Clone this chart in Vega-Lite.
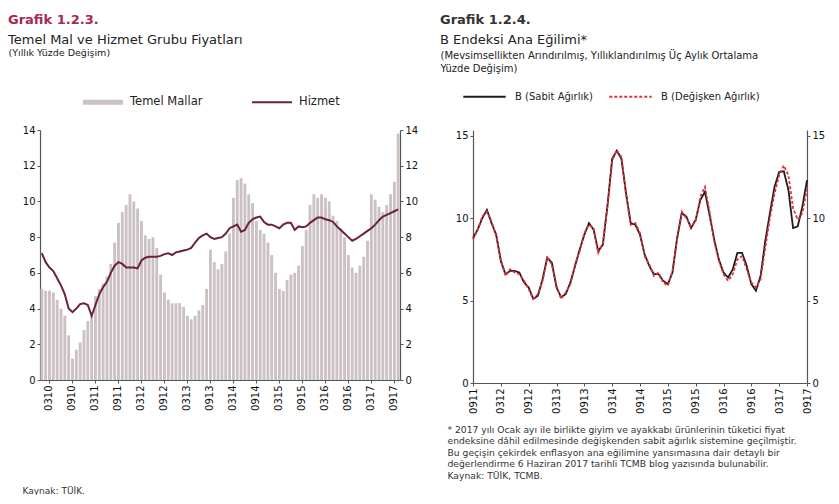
{
  "$schema": "https://vega.github.io/schema/vega-lite/v6.json",
  "background": "white",
  "padding": {"left": 8, "top": 14, "right": 0, "bottom": 0},
  "spacing": 22,
  "resolve": {
    "scale": {"color": "independent", "strokeDash": "independent"},
    "legend": {"color": "independent", "strokeDash": "independent"}
  },
  "config": {
    "font": "DejaVu Sans",
    "view": {"stroke": null},
    "axis": {
      "labelFont": "DejaVu Sans",
      "labelFontSize": 10,
      "labelColor": "#111",
      "domainColor": "#555",
      "domainWidth": 1.2,
      "tickColor": "#555",
      "tickSize": 3,
      "grid": false,
      "titleFont": "DejaVu Sans"
    },
    "title": {
      "anchor": "start",
      "frame": "group",
      "font": "DejaVu Sans",
      "fontSize": 13,
      "fontWeight": "bold",
      "subtitleFont": "DejaVu Sans",
      "subtitleFontSize": 13,
      "subtitleColor": "#222",
      "subtitlePadding": 7
    },
    "legend": {
      "labelFont": "DejaVu Sans",
      "labelColor": "#222"
    }
  },
  "datasets": {
    "temel": [
      {"ay": "2010-01", "temel": 5.1, "hizmet": 7.1},
      {"ay": "2010-02", "temel": 5.0, "hizmet": 6.6},
      {"ay": "2010-03", "temel": 5.0, "hizmet": 6.3},
      {"ay": "2010-04", "temel": 4.9, "hizmet": 6.1},
      {"ay": "2010-05", "temel": 4.5, "hizmet": 5.7},
      {"ay": "2010-06", "temel": 4.0, "hizmet": 5.3},
      {"ay": "2010-07", "temel": 3.6, "hizmet": 4.8},
      {"ay": "2010-08", "temel": 2.5, "hizmet": 4.0},
      {"ay": "2010-09", "temel": 1.2, "hizmet": 3.8},
      {"ay": "2010-10", "temel": 1.7, "hizmet": 4.0},
      {"ay": "2010-11", "temel": 2.1, "hizmet": 4.25},
      {"ay": "2010-12", "temel": 2.8, "hizmet": 4.3},
      {"ay": "2011-01", "temel": 3.3, "hizmet": 4.2},
      {"ay": "2011-02", "temel": 3.6, "hizmet": 3.6},
      {"ay": "2011-03", "temel": 4.7, "hizmet": 4.2},
      {"ay": "2011-04", "temel": 5.1, "hizmet": 4.8},
      {"ay": "2011-05", "temel": 5.4, "hizmet": 5.2},
      {"ay": "2011-06", "temel": 5.8, "hizmet": 5.5},
      {"ay": "2011-07", "temel": 6.5, "hizmet": 6.0},
      {"ay": "2011-08", "temel": 7.7, "hizmet": 6.4},
      {"ay": "2011-09", "temel": 8.8, "hizmet": 6.6},
      {"ay": "2011-10", "temel": 9.4, "hizmet": 6.5},
      {"ay": "2011-11", "temel": 9.8, "hizmet": 6.3},
      {"ay": "2011-12", "temel": 10.4, "hizmet": 6.3},
      {"ay": "2012-01", "temel": 10.0, "hizmet": 6.3},
      {"ay": "2012-02", "temel": 9.6, "hizmet": 6.25},
      {"ay": "2012-03", "temel": 8.9, "hizmet": 6.7},
      {"ay": "2012-04", "temel": 8.1, "hizmet": 6.85},
      {"ay": "2012-05", "temel": 7.9, "hizmet": 6.9},
      {"ay": "2012-06", "temel": 8.0, "hizmet": 6.9},
      {"ay": "2012-07", "temel": 7.4, "hizmet": 6.9},
      {"ay": "2012-08", "temel": 5.9, "hizmet": 6.95},
      {"ay": "2012-09", "temel": 4.9, "hizmet": 7.05},
      {"ay": "2012-10", "temel": 4.5, "hizmet": 7.1},
      {"ay": "2012-11", "temel": 4.3, "hizmet": 7.0},
      {"ay": "2012-12", "temel": 4.3, "hizmet": 7.15},
      {"ay": "2013-01", "temel": 4.3, "hizmet": 7.2},
      {"ay": "2013-02", "temel": 4.1, "hizmet": 7.25},
      {"ay": "2013-03", "temel": 3.6, "hizmet": 7.3},
      {"ay": "2013-04", "temel": 3.4, "hizmet": 7.4},
      {"ay": "2013-05", "temel": 3.6, "hizmet": 7.7},
      {"ay": "2013-06", "temel": 3.9, "hizmet": 7.95},
      {"ay": "2013-07", "temel": 4.2, "hizmet": 8.1},
      {"ay": "2013-08", "temel": 5.1, "hizmet": 8.2},
      {"ay": "2013-09", "temel": 7.3, "hizmet": 8.0},
      {"ay": "2013-10", "temel": 6.6, "hizmet": 7.9},
      {"ay": "2013-11", "temel": 6.2, "hizmet": 7.95},
      {"ay": "2013-12", "temel": 6.5, "hizmet": 8.0},
      {"ay": "2014-01", "temel": 7.2, "hizmet": 8.2},
      {"ay": "2014-02", "temel": 8.2, "hizmet": 8.5},
      {"ay": "2014-03", "temel": 10.2, "hizmet": 8.6},
      {"ay": "2014-04", "temel": 11.2, "hizmet": 8.7},
      {"ay": "2014-05", "temel": 11.3, "hizmet": 8.3},
      {"ay": "2014-06", "temel": 11.0, "hizmet": 8.4},
      {"ay": "2014-07", "temel": 10.4, "hizmet": 8.8},
      {"ay": "2014-08", "temel": 9.9, "hizmet": 9.0},
      {"ay": "2014-09", "temel": 8.9, "hizmet": 9.1},
      {"ay": "2014-10", "temel": 8.4, "hizmet": 9.15},
      {"ay": "2014-11", "temel": 8.2, "hizmet": 8.85},
      {"ay": "2014-12", "temel": 7.7, "hizmet": 8.7},
      {"ay": "2015-01", "temel": 7.0, "hizmet": 8.7},
      {"ay": "2015-02", "temel": 6.0, "hizmet": 8.6},
      {"ay": "2015-03", "temel": 5.1, "hizmet": 8.5},
      {"ay": "2015-04", "temel": 5.0, "hizmet": 8.7},
      {"ay": "2015-05", "temel": 5.6, "hizmet": 8.8},
      {"ay": "2015-06", "temel": 5.9, "hizmet": 8.8},
      {"ay": "2015-07", "temel": 6.0, "hizmet": 8.4},
      {"ay": "2015-08", "temel": 6.4, "hizmet": 8.6},
      {"ay": "2015-09", "temel": 7.5, "hizmet": 8.55},
      {"ay": "2015-10", "temel": 8.4, "hizmet": 8.6},
      {"ay": "2015-11", "temel": 9.8, "hizmet": 8.8},
      {"ay": "2015-12", "temel": 10.4, "hizmet": 8.95},
      {"ay": "2016-01", "temel": 10.2, "hizmet": 9.1},
      {"ay": "2016-02", "temel": 10.4, "hizmet": 9.1},
      {"ay": "2016-03", "temel": 10.2, "hizmet": 9.0},
      {"ay": "2016-04", "temel": 10.0, "hizmet": 8.95},
      {"ay": "2016-05", "temel": 9.2, "hizmet": 8.85},
      {"ay": "2016-06", "temel": 8.9, "hizmet": 8.6},
      {"ay": "2016-07", "temel": 8.5, "hizmet": 8.4},
      {"ay": "2016-08", "temel": 8.0, "hizmet": 8.2},
      {"ay": "2016-09", "temel": 7.0, "hizmet": 8.0},
      {"ay": "2016-10", "temel": 6.3, "hizmet": 7.8},
      {"ay": "2016-11", "temel": 6.0, "hizmet": 7.9},
      {"ay": "2016-12", "temel": 6.4, "hizmet": 8.05},
      {"ay": "2017-01", "temel": 6.9, "hizmet": 8.2},
      {"ay": "2017-02", "temel": 7.8, "hizmet": 8.35},
      {"ay": "2017-03", "temel": 10.4, "hizmet": 8.5},
      {"ay": "2017-04", "temel": 10.1, "hizmet": 8.7},
      {"ay": "2017-05", "temel": 9.7, "hizmet": 8.95},
      {"ay": "2017-06", "temel": 9.4, "hizmet": 9.15},
      {"ay": "2017-07", "temel": 9.8, "hizmet": 9.25},
      {"ay": "2017-08", "temel": 10.4, "hizmet": 9.35},
      {"ay": "2017-09", "temel": 11.1, "hizmet": 9.45},
      {"ay": "2017-10", "temel": 13.8, "hizmet": 9.55}
    ],
    "egilim": [
      {"ay": "2011-09", "sabit": 8.8, "degisken": 8.7},
      {"ay": "2011-10", "sabit": 9.3, "degisken": 9.3},
      {"ay": "2011-11", "sabit": 10.0, "degisken": 10.1},
      {"ay": "2011-12", "sabit": 10.5, "degisken": 10.4},
      {"ay": "2012-01", "sabit": 9.7, "degisken": 9.8},
      {"ay": "2012-02", "sabit": 9.0, "degisken": 8.9},
      {"ay": "2012-03", "sabit": 7.4, "degisken": 7.5},
      {"ay": "2012-04", "sabit": 6.6, "degisken": 6.5},
      {"ay": "2012-05", "sabit": 6.8, "degisken": 6.9},
      {"ay": "2012-06", "sabit": 6.8, "degisken": 6.7},
      {"ay": "2012-07", "sabit": 6.7, "degisken": 6.6},
      {"ay": "2012-08", "sabit": 6.1, "degisken": 6.2},
      {"ay": "2012-09", "sabit": 5.8, "degisken": 5.7},
      {"ay": "2012-10", "sabit": 5.1, "degisken": 5.1},
      {"ay": "2012-11", "sabit": 5.3, "degisken": 5.4},
      {"ay": "2012-12", "sabit": 6.3, "degisken": 6.2},
      {"ay": "2013-01", "sabit": 7.6, "degisken": 7.6},
      {"ay": "2013-02", "sabit": 7.3, "degisken": 7.2},
      {"ay": "2013-03", "sabit": 5.8, "degisken": 5.9},
      {"ay": "2013-04", "sabit": 5.2, "degisken": 5.1},
      {"ay": "2013-05", "sabit": 5.4, "degisken": 5.5},
      {"ay": "2013-06", "sabit": 6.1, "degisken": 6.0},
      {"ay": "2013-07", "sabit": 7.1, "degisken": 7.2},
      {"ay": "2013-08", "sabit": 8.1, "degisken": 8.0},
      {"ay": "2013-09", "sabit": 9.0, "degisken": 9.1},
      {"ay": "2013-10", "sabit": 9.7, "degisken": 9.6},
      {"ay": "2013-11", "sabit": 9.3, "degisken": 9.4},
      {"ay": "2013-12", "sabit": 8.0, "degisken": 7.9},
      {"ay": "2014-01", "sabit": 8.4, "degisken": 8.5},
      {"ay": "2014-02", "sabit": 10.8, "degisken": 10.7},
      {"ay": "2014-03", "sabit": 13.6, "degisken": 13.5},
      {"ay": "2014-04", "sabit": 14.1, "degisken": 14.1},
      {"ay": "2014-05", "sabit": 13.6, "degisken": 13.7},
      {"ay": "2014-06", "sabit": 11.5, "degisken": 11.4},
      {"ay": "2014-07", "sabit": 9.7, "degisken": 9.6},
      {"ay": "2014-08", "sabit": 9.6, "degisken": 9.7},
      {"ay": "2014-09", "sabit": 9.0, "degisken": 9.1},
      {"ay": "2014-10", "sabit": 7.8, "degisken": 7.7},
      {"ay": "2014-11", "sabit": 7.1, "degisken": 7.2},
      {"ay": "2014-12", "sabit": 6.6, "degisken": 6.5},
      {"ay": "2015-01", "sabit": 6.6, "degisken": 6.7},
      {"ay": "2015-02", "sabit": 6.2, "degisken": 6.1},
      {"ay": "2015-03", "sabit": 6.0, "degisken": 5.9},
      {"ay": "2015-04", "sabit": 6.7, "degisken": 6.8},
      {"ay": "2015-05", "sabit": 8.8, "degisken": 8.7},
      {"ay": "2015-06", "sabit": 10.3, "degisken": 10.4},
      {"ay": "2015-07", "sabit": 10.1, "degisken": 10.0},
      {"ay": "2015-08", "sabit": 9.4, "degisken": 9.5},
      {"ay": "2015-09", "sabit": 9.9, "degisken": 9.8},
      {"ay": "2015-10", "sabit": 11.1, "degisken": 11.3},
      {"ay": "2015-11", "sabit": 11.6, "degisken": 11.9},
      {"ay": "2015-12", "sabit": 10.2, "degisken": 10.4},
      {"ay": "2016-01", "sabit": 8.7, "degisken": 8.6},
      {"ay": "2016-02", "sabit": 7.5, "degisken": 7.4},
      {"ay": "2016-03", "sabit": 6.7, "degisken": 6.6},
      {"ay": "2016-04", "sabit": 6.4, "degisken": 6.2},
      {"ay": "2016-05", "sabit": 6.9, "degisken": 6.6},
      {"ay": "2016-06", "sabit": 7.9, "degisken": 7.5},
      {"ay": "2016-07", "sabit": 7.9, "degisken": 7.7},
      {"ay": "2016-08", "sabit": 7.1, "degisken": 6.9},
      {"ay": "2016-09", "sabit": 6.0, "degisken": 6.1},
      {"ay": "2016-10", "sabit": 5.6, "degisken": 5.8},
      {"ay": "2016-11", "sabit": 6.5, "degisken": 6.3},
      {"ay": "2016-12", "sabit": 8.6, "degisken": 8.2},
      {"ay": "2017-01", "sabit": 10.3, "degisken": 10.0},
      {"ay": "2017-02", "sabit": 11.9, "degisken": 11.5},
      {"ay": "2017-03", "sabit": 12.8, "degisken": 12.6},
      {"ay": "2017-04", "sabit": 12.85, "degisken": 13.2},
      {"ay": "2017-05", "sabit": 11.7, "degisken": 12.6},
      {"ay": "2017-06", "sabit": 9.4, "degisken": 10.6},
      {"ay": "2017-07", "sabit": 9.5, "degisken": 9.9},
      {"ay": "2017-08", "sabit": 10.7, "degisken": 10.3},
      {"ay": "2017-09", "sabit": 12.3, "degisken": 11.8}
    ]
  },
  "hconcat": [
    {
      "width": 360,
      "height": 250,
      "title": {
        "text": "Grafik 1.2.3.",
        "color": "#a8284e",
        "subtitle": "Temel Mal ve Hizmet Grubu Fiyatları",
        "dx": -32,
        "offset": 0
      },
      "data": {"name": "temel"},
      "encoding": {
        "x": {
          "field": "ay",
          "type": "ordinal",
          "scale": {"paddingInner": 0.25, "paddingOuter": 0.1},
          "axis": {
            "values": ["2010-03", "2010-09", "2011-03", "2011-09", "2012-03", "2012-09", "2013-03", "2013-09", "2014-03", "2014-09", "2015-03", "2015-09", "2016-03", "2016-09", "2017-03", "2017-09"],
            "labelExpr": "substring(datum.value, 5, 7) + substring(datum.value, 2, 4)",
            "labelAngle": -90,
            "title": "Kaynak: TÜİK.",
            "titleAnchor": "start",
            "titleAlign": "left",
            "titleBaseline": "top",
            "titleX": -18,
            "titleY": 106,
            "titleFontSize": 9,
            "titleFontWeight": "normal",
            "titleColor": "#333"
          }
        }
      },
      "layer": [
        {
          "mark": {"type": "bar"},
          "encoding": {
            "y": {
              "field": "temel",
              "type": "quantitative",
              "scale": {"domain": [0, 14], "nice": false},
              "axis": {
                "values": [0, 2, 4, 6, 8, 10, 12, 14],
                "title": "(Yıllık Yüzde Değişim)",
                "titleAngle": 0,
                "titleAlign": "left",
                "titleBaseline": "top",
                "titleX": -32,
                "titleY": -83,
                "titleFontSize": 9.5,
                "titleFontWeight": "normal",
                "titleColor": "#222"
              }
            },
            "color": {
              "datum": "Temel Mallar",
              "scale": {"domain": ["Temel Mallar", "Hizmet"], "range": ["#cbc1c5", "#6b2236"]},
              "legend": {
                "orient": "none",
                "legendX": 42,
                "legendY": -49,
                "direction": "horizontal",
                "title": null,
                "columnPadding": 48,
                "labelFontSize": 11.5,
                "symbolType": "M-1,-0.12H1V0.12H-1Z",
                "symbolSize": 1600,
                "labelOffset": 6,
                "encode": {
                  "symbols": {
                    "update": {
                      "shape": {"signal": "datum.value === 'Hizmet' ? 'M-1,-0.045H1V0.045H-1Z' : 'M-1,-0.12H1V0.12H-1Z'"}
                    }
                  }
                }
              }
            }
          }
        },
        {
          "mark": {"type": "line", "color": "#6b2236", "strokeWidth": 2},
          "encoding": {
            "y": {
              "field": "hizmet",
              "type": "quantitative",
              "scale": {"domain": [0, 14], "nice": false},
              "axis": {"orient": "right", "values": [0, 2, 4, 6, 8, 10, 12, 14], "title": null}
            }
          }
        }
      ],
      "resolve": {"scale": {"y": "independent"}}
    },
    {
      "width": 334,
      "height": 253,
      "title": {
        "text": "Grafik 1.2.4.",
        "color": "#333",
        "subtitle": "B Endeksi Ana Eğilimi*",
        "dx": -33,
        "offset": 3
      },
      "data": {"name": "egilim"},
      "transform": [{"fold": ["sabit", "degisken"], "as": ["seri", "deger"]}],
      "layer": [
        {
          "mark": {"type": "line", "strokeWidth": 1.8},
          "encoding": {
            "x": {
              "field": "ay",
              "type": "ordinal",
              "scale": {"type": "point", "padding": 0},
              "axis": {
                "values": ["2011-09", "2012-03", "2012-09", "2013-03", "2013-09", "2014-03", "2014-09", "2015-03", "2015-09", "2016-03", "2016-09", "2017-03", "2017-09"],
                "labelExpr": "substring(datum.value, 5, 7) + substring(datum.value, 2, 4)",
                "labelAngle": -90,
                "title": [
                  "* 2017 yılı Ocak ayı ile birlikte giyim ve ayakkabı ürünlerinin tüketici fiyat",
                  "endeksine dâhil edilmesinde değişkenden sabit ağırlık sistemine geçilmiştir.",
                  "Bu geçişin çekirdek enflasyon ana eğilimine yansımasına dair detaylı bir",
                  "değerlendirme 6 Haziran 2017 tarihli TCMB blog yazısında bulunabilir.",
                  "Kaynak: TÜİK, TCMB."
                ],
                "titleAnchor": "start",
                "titleAlign": "left",
                "titleBaseline": "top",
                "titleX": -26,
                "titleY": 42,
                "titleLineHeight": 11.5,
                "titleFontSize": 9.2,
                "titleFontWeight": "normal",
                "titleColor": "#333"
              }
            },
            "y": {
              "field": "deger",
              "type": "quantitative",
              "scale": {"domain": [0, 15.35], "nice": false},
              "axis": {
                "values": [0, 5, 10, 15],
                "title": ["(Mevsimsellikten Arındırılmış, Yıllıklandırılmış Üç Aylık Ortalama", "Yüzde Değişim)"],
                "titleAngle": 0,
                "titleAlign": "left",
                "titleBaseline": "top",
                "titleX": -33,
                "titleY": -80,
                "titleLineHeight": 13,
                "titleFontSize": 10,
                "titleFontWeight": "normal",
                "titleColor": "#222"
              }
            },
            "color": {
              "field": "seri",
              "type": "nominal",
              "scale": {"domain": ["sabit", "degisken"], "range": ["#1c1c1c", "#e0303c"]},
              "legend": {
                "orient": "none",
                "legendX": -11,
                "legendY": -56,
                "direction": "horizontal",
                "title": null,
                "labelFontSize": 10,
                "symbolType": "stroke",
                "symbolSize": 1800,
                "symbolStrokeWidth": 1.8,
                "columnPadding": 12,
                "labelOffset": 8,
                "labelExpr": "datum.value == 'sabit' ? 'B (Sabit Ağırlık)' : 'B (Değişken Ağırlık)'"
              }
            },
            "strokeDash": {
              "field": "seri",
              "type": "nominal",
              "scale": {"domain": ["sabit", "degisken"], "range": [[1, 0], [3, 2]]},
              "legend": {
                "orient": "none",
                "legendX": -11,
                "legendY": -56,
                "direction": "horizontal",
                "title": null,
                "labelFontSize": 10,
                "symbolType": "stroke",
                "symbolSize": 1800,
                "symbolStrokeWidth": 1.8,
                "columnPadding": 12,
                "labelOffset": 8,
                "labelExpr": "datum.value == 'sabit' ? 'B (Sabit Ağırlık)' : 'B (Değişken Ağırlık)'"
              }
            }
          }
        },
        {
          "mark": {"type": "rule", "opacity": 0},
          "encoding": {
            "y": {"field": "deger", "type": "quantitative", "aggregate": "max", "scale": {"domain": [0, 15.35], "nice": false}, "axis": {"orient": "right", "values": [0, 5, 10, 15], "title": null}}
          }
        }
      ],
      "resolve": {"scale": {"y": "independent"}}
    }
  ]
}
